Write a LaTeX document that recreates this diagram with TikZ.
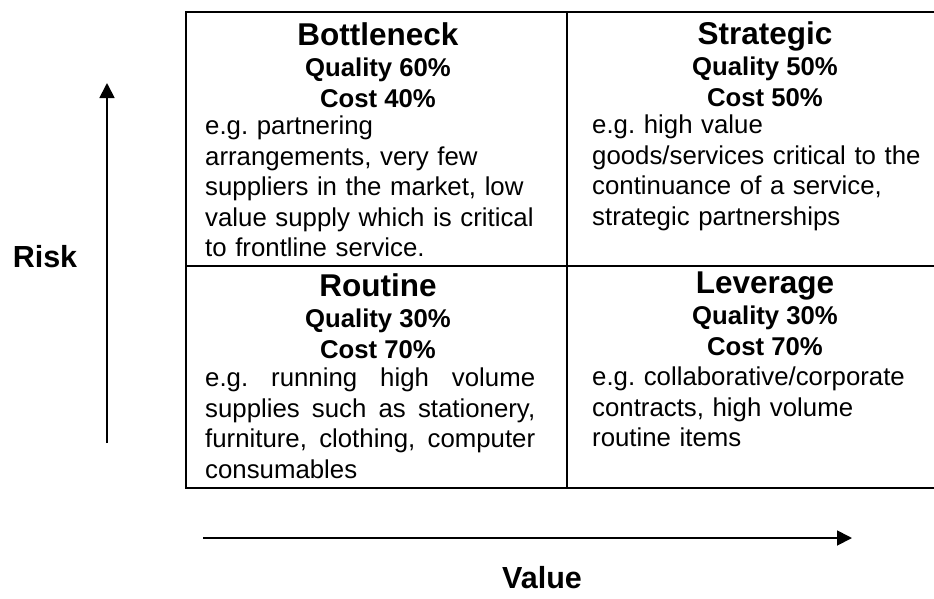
\documentclass[tikz,border=0pt]{standalone}
\usepackage{fontspec}
\setmainfont{Liberation Sans}
\usetikzlibrary{arrows.meta}

\newcommand{\titlesize}{\fontsize{31.5}{31}\selectfont}
\newcommand{\quadhead}[3]{{\titlesize #1}\\#2\\#3}
\hyphenpenalty=10000
\tolerance=9999
\frenchspacing

\begin{document}
\begin{tikzpicture}[
            x=1pt, y=-1pt,
            grid/.style={line width=2.4pt},
            axis/.style={line width=1.8pt, -{Triangle[length=15pt,width=15pt]}},
            heading/.style={anchor=north, align=center, inner sep=0pt,
              font=\fontsize{25.7}{31}\selectfont\bfseries},
            body/.style={anchor=north west, inner sep=0pt,
              font=\fontsize{25.8}{30.5}\selectfont\frenchspacing},
            axislabel/.style={font=\fontsize{30.5}{31}\selectfont\bfseries},
          ]
          \useasboundingbox (0,0) rectangle (934,598);
          \clip (0,0) rectangle (934,598);

          % the four boxes
          \draw[grid] (186,12) rectangle (962,488);
          \draw[grid] (567,12) -- (567,488);
          \draw[grid] (186,266) -- (962,266);

          % top row
          \node[heading] (bottleneck) at (378,22)
            {\quadhead{Bottleneck}{Quality 60\%}{Cost 40\%}};
          \node[body, text width=332pt, align=left] (bottleneckTxt) at (205,116)
            {e.g. partnering arrangements, very few suppliers in the market,
             low value supply which is critical to frontline service.};
          \node[heading] (strategic) at (765,21)
            {\quadhead{Strategic}{Quality 50\%}{Cost 50\%}};
          \node[body, text width=340pt, align=left] (strategicTxt) at (592,115)
            {e.g. high value goods/services critical to the continuance
             of a service, strategic partnerships};

          % bottom row
          \node[heading] (routine) at (378,273)
            {\quadhead{Routine}{Quality 30\%}{Cost 70\%}};
          \node[body, text width=330pt, align=justify] (routineTxt) at (205,368)
            {e.g. running high volume supplies such as stationery,
             furniture, clothing, computer consumables};
          \node[heading] (leverage) at (765,272)
            {\quadhead{Leverage}{Quality 30\%}{Cost 70\%}};
          \node[body, text width=340pt, align=left] (leverageTxt) at (592,367)
            {e.g. collaborative/corporate contracts, high volume routine items};

          % axes
          \coordinate (riskFoot) at (107,443);
          \coordinate (riskTip) at (107,83);
          \draw[axis] (riskFoot) -- (riskTip);
          \node[axislabel] (risk) at (45,257) {Risk};

          \coordinate (valueFoot) at (203,538);
          \coordinate (valueTip) at (852,538);
          \draw[axis] (valueFoot) -- (valueTip);
          \node[axislabel] (value) at (542,578) {Value};
          \end{tikzpicture}
\end{document}
